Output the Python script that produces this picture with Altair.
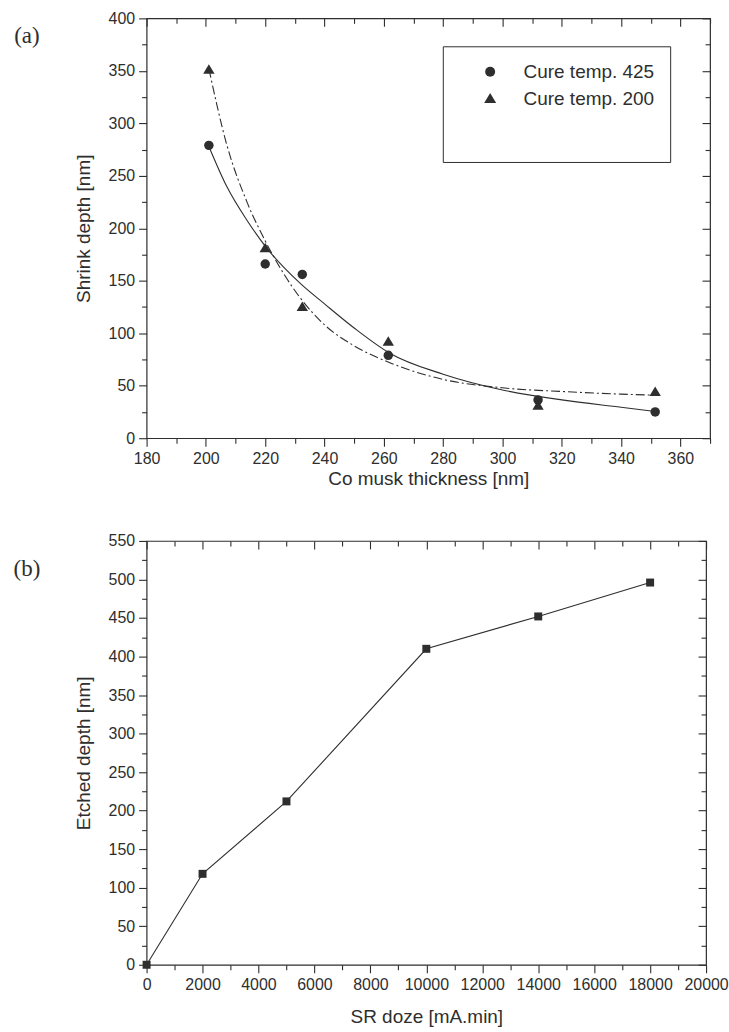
import altair as alt
import pandas as pd

# ---- panel (a): shrink depth vs. Co mask thickness ----
thickness = [201, 220, 232.5, 261.5, 312, 351.5]
shrink_425 = [279, 166, 156, 79, 36.5, 25]
shrink_200 = [351, 181, 125, 92, 31, 44]
series_labels = ["Cure temp. 425", "Cure temp. 200"]

# fitted decay curves, sampled along the thickness axis
fit_thickness = [201, 207, 214, 220, 232, 240, 250, 262, 280, 300, 320, 340, 351.5]
fit_425 = [278, 240, 207, 183, 147, 128, 105, 81, 61, 46, 36.5, 29.5, 25.5]
fit_200 = [352, 280, 224, 188, 133, 108, 88, 72, 56, 48, 44.5, 42, 41]

# ---- panel (b): etched depth vs. SR dose ----
dose = [0, 2000, 5000, 10000, 14000, 18000]
etched = [0, 118, 212, 410, 452, 496]

# axis tick positions
a_x_major = list(range(180, 361, 20))
a_x_minor = list(range(190, 371, 20))
a_y_major = list(range(0, 401, 50))
a_y_minor = list(range(25, 376, 50))
b_x_major = list(range(0, 20001, 2000))
b_x_minor = list(range(1000, 19001, 2000))
b_y_major = list(range(0, 551, 50))
b_y_minor = list(range(25, 526, 50))

INK = "#2e2e2e"
SANS = "Liberation Sans"
SERIF = "Liberation Serif"
MAJOR, MINOR = 8, 5
# slightly enlarged upward triangle (unit-square SVG path)
TRIANGLE = "M0,-1.15L1.2,0.85L-1.2,0.85Z"

points_a = pd.DataFrame({
    "thickness": thickness * 2,
    "shrink": shrink_425 + shrink_200,
    "series": [series_labels[0]] * len(thickness) + [series_labels[1]] * len(thickness),
})
fits_a = pd.DataFrame({"thickness": fit_thickness, "fit425": fit_425, "fit200": fit_200})
data_b = pd.DataFrame({"dose": dose, "etched": etched})


def axis(orient, values, size, title=None, fmt=None, title_pad=15):
    """Frame axis: labelled outward ticks on bottom/left, inward ticks on top/right."""
    labelled = title is not None
    kw = dict(
        orient=orient, values=values, tickSize=size, tickColor=INK, tickWidth=1.1,
        domain=False, grid=False, labels=labelled, title=title if labelled else None,
        labelFont=SANS, labelFontSize=16, labelColor=INK, labelPadding=4,
        labelOverlap=False, labelFlush=False,
        titleFont=SANS, titleFontSize=19, titleFontWeight="normal", titleColor=INK,
        titlePadding=title_pad,
    )
    if orient in ("top", "right"):
        kw["offset"] = -size
    if fmt:
        kw["format"] = fmt
    return alt.Axis(**kw)


# ---------------- panel (a) ----------------
xa = alt.Scale(domain=[180, 370], nice=False, zero=False)
ya = alt.Scale(domain=[0, 400], nice=False, zero=False)

fit_solid = alt.Chart(fits_a).mark_line(
    color=INK, strokeWidth=1.1, interpolate="monotone"
).encode(
    x=alt.X("thickness:Q", scale=xa,
            axis=axis("bottom", a_x_major, MAJOR, "Co musk thickness [nm]", title_pad=3)),
    y=alt.Y("fit425:Q", scale=ya, axis=axis("left", a_y_major, MAJOR, "Shrink depth [nm]")),
)

fit_dashdot = alt.Chart(fits_a).mark_line(
    color=INK, strokeWidth=1.1, strokeDash=[9, 3, 2, 3], interpolate="monotone"
).encode(
    x=alt.X("thickness:Q", scale=xa, axis=axis("top", a_x_major, MAJOR)),
    y=alt.Y("fit200:Q", scale=ya, axis=axis("right", a_y_major, MAJOR)),
)

markers_a = alt.Chart(points_a).mark_point(filled=True, color=INK, opacity=1, size=90).encode(
    x=alt.X("thickness:Q", scale=xa, axis=axis("bottom", a_x_minor, MINOR)),
    y=alt.Y("shrink:Q", scale=ya, axis=axis("left", a_y_minor, MINOR)),
    shape=alt.Shape(
        "series:N",
        scale=alt.Scale(domain=series_labels, range=["circle", TRIANGLE]),
        legend=alt.Legend(
            title=" ", titleOrient="bottom", titleFontSize=19, titlePadding=18,
            orient="none", legendX=297, legendY=28,
            strokeColor=INK, fillColor="white", padding=16, cornerRadius=0,
            symbolOffset=22, symbolSize=100, symbolFillColor=INK, symbolStrokeColor=INK,
            labelFont=SANS, labelFontSize=19, labelColor=INK, labelOffset=24,
            rowPadding=7,
        ),
    ),
)

ghost_a = alt.Chart(points_a).mark_point(opacity=0).encode(
    x=alt.X("thickness:Q", scale=xa, axis=axis("top", a_x_minor, MINOR)),
    y=alt.Y("shrink:Q", scale=ya, axis=axis("right", a_y_minor, MINOR)),
)

tag_a = alt.Chart(alt.Data(values=[{"tag": "(a)"}])).mark_text(
    font=SERIF, fontSize=23, color=INK, align="center", baseline="middle"
).encode(x=alt.value(-120), y=alt.value(18), text="tag:N")

panel_a = alt.layer(fit_solid, fit_dashdot, markers_a, ghost_a, tag_a).resolve_axis(
    x="independent", y="independent"
).properties(width=565, height=421)

# ---------------- panel (b) ----------------
xb = alt.Scale(domain=[0, 20000], nice=False, zero=False)
yb = alt.Scale(domain=[0, 550], nice=False, zero=False)

line_b = alt.Chart(data_b).mark_line(color=INK, strokeWidth=1.1).encode(
    x=alt.X("dose:Q", scale=xb, axis=axis("bottom", b_x_major, MAJOR, "SR doze [mA.min]", fmt="d")),
    y=alt.Y("etched:Q", scale=yb, axis=axis("left", b_y_major, MAJOR, "Etched depth [nm]")),
)

squares_b = alt.Chart(data_b).mark_point(shape="square", filled=True, color=INK, opacity=1, size=64).encode(
    x=alt.X("dose:Q", scale=xb, axis=axis("top", b_x_major, MAJOR)),
    y=alt.Y("etched:Q", scale=yb, axis=axis("right", b_y_major, MAJOR)),
)

ghost_b1 = alt.Chart(data_b).mark_point(opacity=0).encode(
    x=alt.X("dose:Q", scale=xb, axis=axis("bottom", b_x_minor, MINOR)),
    y=alt.Y("etched:Q", scale=yb, axis=axis("left", b_y_minor, MINOR)),
)

ghost_b2 = alt.Chart(data_b).mark_point(opacity=0).encode(
    x=alt.X("dose:Q", scale=xb, axis=axis("top", b_x_minor, MINOR)),
    y=alt.Y("etched:Q", scale=yb, axis=axis("right", b_y_minor, MINOR)),
)

tag_b = alt.Chart(alt.Data(values=[{"tag": "(b)"}])).mark_text(
    font=SERIF, fontSize=23, color=INK, align="center", baseline="middle"
).encode(x=alt.value(-120), y=alt.value(28), text="tag:N")

panel_b = alt.layer(line_b, squares_b, ghost_b1, ghost_b2, tag_b).resolve_axis(
    x="independent", y="independent"
).properties(width=561, height=425)

chart = alt.vconcat(panel_a, panel_b, spacing=43).properties(
    padding={"left": 12, "top": 8, "right": 0, "bottom": 0},
    background="white",
).configure_view(stroke=INK, strokeWidth=1.2)

chart.save("out.html", embed_options={"renderer": "svg", "actions": False})
